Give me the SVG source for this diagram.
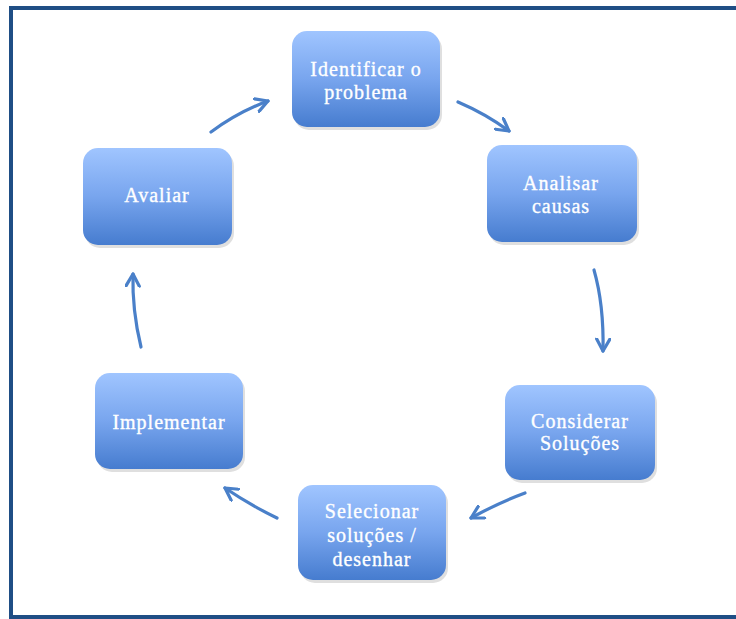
<svg xmlns="http://www.w3.org/2000/svg" width="736" height="619" viewBox="0 0 736 619">
  <defs>
    <linearGradient id="boxFill" x1="0" y1="0" x2="0" y2="1">
      <stop offset="0" stop-color="#a0c5ff"/>
      <stop offset="0.5" stop-color="#78a5ee"/>
      <stop offset="1" stop-color="#467ccf"/>
    </linearGradient>
    <marker id="head" viewBox="0 0 12 12" refX="10" refY="6" markerWidth="5" markerHeight="5" orient="auto" markerUnits="strokeWidth">
      <path d="M1,1 L10,6 L1,11" fill="none" stroke="#4a80c9" stroke-width="2.4" stroke-linecap="round" stroke-linejoin="round"/>
    </marker>
  </defs>
  <style>
    .box { fill: url(#boxFill); }
    .shadow { fill: #b8b8b8; opacity: 0.45; }
    .label { font-family: "Liberation Serif", "DejaVu Serif", serif; font-size: 20px; letter-spacing: 1px; fill: #ffffff; stroke: #ffffff; stroke-width: 0.35; text-anchor: middle; }
    .arrow { fill: none; stroke: #4a80c9; stroke-width: 3.2; stroke-linecap: round; marker-end: url(#head); }
  </style>

  <rect x="11" y="8" width="740" height="609" fill="#ffffff" stroke="#1f4e85" stroke-width="4"/>

  <g id="identificar">
    <rect class="shadow" x="294" y="34" width="148" height="96" rx="15"/>
    <rect class="box" x="292" y="31" width="148" height="96" rx="15"/>
    <text class="label" x="366" y="76">Identificar o</text>
    <text class="label" x="366" y="99">problema</text>
  </g>

  <g id="analisar">
    <rect class="shadow" x="489" y="148" width="150" height="97" rx="15"/>
    <rect class="box" x="487" y="145" width="150" height="97" rx="15"/>
    <text class="label" x="561" y="190">Analisar</text>
    <text class="label" x="561" y="213">causas</text>
  </g>

  <g id="considerar">
    <rect class="shadow" x="507" y="388" width="150" height="95" rx="15"/>
    <rect class="box" x="505" y="385" width="150" height="95" rx="15"/>
    <text class="label" x="580" y="428">Considerar</text>
    <text class="label" x="580" y="450">Soluções</text>
  </g>

  <g id="selecionar">
    <rect class="shadow" x="300" y="488" width="148" height="95" rx="15"/>
    <rect class="box" x="298" y="485" width="148" height="95" rx="15"/>
    <text class="label" x="372" y="518">Selecionar</text>
    <text class="label" x="372" y="542">soluções /</text>
    <text class="label" x="372" y="566">desenhar</text>
  </g>

  <g id="implementar">
    <rect class="shadow" x="97" y="376" width="148" height="96" rx="15"/>
    <rect class="box" x="95" y="373" width="148" height="96" rx="15"/>
    <text class="label" x="169" y="429">Implementar</text>
  </g>

  <g id="avaliar">
    <rect class="shadow" x="85" y="151" width="149" height="97" rx="15"/>
    <rect class="box" x="83" y="148" width="149" height="97" rx="15"/>
    <text class="label" x="157" y="202">Avaliar</text>
  </g>

  <g id="connectors">
    <path class="arrow" d="M211,132 Q238,112 268,101"/>
    <path class="arrow" d="M458,102 Q486,114 509,131"/>
    <path class="arrow" d="M594,270 Q604,305 603,351"/>
    <path class="arrow" d="M525,493 Q498,503 471,518"/>
    <path class="arrow" d="M277,518 Q250,505 225,488"/>
    <path class="arrow" d="M141,347 Q132,310 133,274"/>
  </g>
</svg>
